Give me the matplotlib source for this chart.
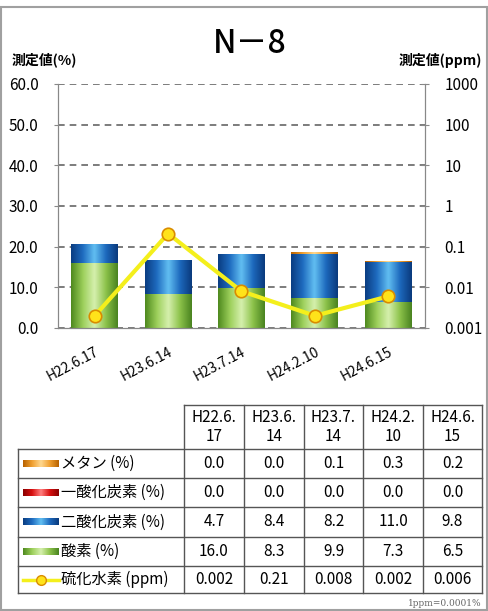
import numpy as np
import matplotlib
matplotlib.use('Agg')
import matplotlib.pyplot as plt
from matplotlib.colors import LinearSegmentedColormap
from matplotlib.patches import Rectangle

plt.rcParams['font.family'] = ['Noto Sans CJK JP', 'DejaVu Sans']

# data
dates = ['H22.6.17', 'H23.6.14', 'H23.7.14', 'H24.2.10', 'H24.6.15']
methane = [0.0, 0.0, 0.1, 0.3, 0.2]
co = [0.0, 0.0, 0.0, 0.0, 0.0]
co2 = [4.7, 8.4, 8.2, 11.0, 9.8]
o2 = [16.0, 8.3, 9.9, 7.3, 6.5]
h2s = [0.002, 0.21, 0.008, 0.002, 0.006]

left_ticks = [0, 10, 20, 30, 40, 50, 60]
right_ticks = [0.001, 0.01, 0.1, 1, 10, 100, 1000]
right_tick_labels = ['0.001', '0.01', '0.1', '1', '10', '100', '1000']

row_names = ['メタン (%)', '一酸化炭素 (%)', '二酸化炭素 (%)', '酸素 (%)', '硫化水素 (ppm)']

# gradient maps for the cylinder look
cm_green = LinearSegmentedColormap.from_list('g', ['#4f8a1f', '#9ccf5a', '#d6f0ae', '#8cc24a', '#4a8420'])
cm_blue = LinearSegmentedColormap.from_list('b', ['#0a3d82', '#1f6cc0', '#62bff2', '#1d69bd', '#0a3a7d'])
cm_orange = LinearSegmentedColormap.from_list('o', ['#b86200', '#f0a030', '#ffd890', '#f0a030', '#b86200'])
cm_red = LinearSegmentedColormap.from_list('r', ['#8a0000', '#d81010', '#ff8080', '#d81010', '#8a0000'])
grad = np.linspace(0, 1, 64).reshape(1, -1)


def grad_bars(ax, bars, cmap):
    for p in bars:
        h = p.get_height()
        if h <= 0:
            continue
        x0, y0, w = p.get_x(), p.get_y(), p.get_width()
        im = ax.imshow(grad, cmap=cmap, extent=[x0, x0 + w, y0, y0 + h],
                       aspect='auto', zorder=2, interpolation='bicubic')
        im.set_clip_path(p)
        p.set_facecolor('none')


fig = plt.figure(figsize=(4.89, 6.11), dpi=100)
ax = fig.add_axes([58 / 489, 1 - 328 / 611, 367 / 489, 244 / 611])

x = np.arange(len(dates))
bw = 0.64
b1 = ax.bar(x, o2, bw, zorder=2)
base = np.array(o2)
b2 = ax.bar(x, co2, bw, bottom=base, zorder=2)
base = base + np.array(co2)
b3 = ax.bar(x, co, bw, bottom=base, zorder=2)
base = base + np.array(co)
b4 = ax.bar(x, methane, bw, bottom=base, zorder=2)
grad_bars(ax, b1, cm_green)
grad_bars(ax, b2, cm_blue)
grad_bars(ax, b3, cm_red)
grad_bars(ax, b4, cm_orange)

ax.set_xlim(-0.5, len(dates) - 0.5)
ax.set_ylim(0, 60)
ax.set_yticks(left_ticks)
ax.set_yticklabels([f'{t:.1f}' for t in left_ticks], fontsize=11)
ax.yaxis.grid(True, linestyle=(0, (4, 3)), color='#666666', linewidth=1.2)
ax.set_axisbelow(True)
ax.set_xticks(x)
ax.set_xticklabels(dates, rotation=28, ha='right', rotation_mode='anchor', fontsize=10)
ax.tick_params(axis='x', length=0, pad=12)
ax.tick_params(axis='y', length=3, color='#888888', pad=11)
ax.spines['top'].set_visible(False)
for s in ['left', 'bottom', 'right']:
    ax.spines[s].set_color('#888888')

ax2 = ax.twinx()
ax2.set_yscale('log')
ax2.set_ylim(0.001, 1000)
ax2.plot(x, h2s, color='#f4ef1c', linewidth=3, marker='o', markersize=9,
         markerfacecolor='#ffe31a', markeredgecolor='#d98c00', markeredgewidth=1.2, zorder=5)
ax2.set_yticks(right_ticks)
ax2.set_yticklabels(right_tick_labels, fontsize=11)
ax2.minorticks_off()
ax2.tick_params(axis='y', direction='inout', length=6, color='#888888', pad=11)
ax2.spines['top'].set_visible(False)
for s in ['left', 'bottom', 'right']:
    ax2.spines[s].set_color('#888888')

# overlay in pixel coordinates for title, labels and table
ov = fig.add_axes([0, 0, 1, 1])
ov.set_xlim(0, 489)
ov.set_ylim(611, 0)
ov.axis('off')
ov.patch.set_alpha(0)

ov.add_patch(Rectangle((1, 7), 486, 603, fill=False, edgecolor='#a0a0a0', linewidth=1.5))
ov.text(250, 44, 'N－8', fontsize=23, ha='center', va='center', weight='medium')
ov.text(12, 60, '測定値(%)', fontsize=10, ha='left', va='center', weight='bold')
ov.text(482, 60, '測定値(ppm)', fontsize=10, ha='right', va='center', weight='bold')

col_edges = [184, 244, 304, 363, 423, 482]
row_edges = [449, 478, 507, 537, 566, 593]
head_top = 405
tab_left = 18
lc = '#555555'

# header cells
ov.plot([col_edges[0], col_edges[-1]], [head_top, head_top], color=lc, lw=1)
for cx in col_edges:
    ov.plot([cx, cx], [head_top, row_edges[-1]], color=lc, lw=1)
ov.plot([tab_left, tab_left], [row_edges[0], row_edges[-1]], color=lc, lw=1)
for ry in row_edges:
    ov.plot([tab_left, col_edges[-1]], [ry, ry], color=lc, lw=1)

for j, d in enumerate(dates):
    cx = (col_edges[j] + col_edges[j + 1]) / 2
    ov.text(cx, (head_top + row_edges[0]) / 2, d[:6] + '\n' + d[6:], fontsize=11,
            ha='center', va='center', linespacing=1.15)

series = [methane, co, co2, o2]
cmaps = [cm_orange, cm_red, cm_blue, cm_green]
for i, name in enumerate(row_names):
    cy = (row_edges[i] + row_edges[i + 1]) / 2
    if i < 4:
        ov.imshow(grad, cmap=cmaps[i], extent=[23, 59, cy + 3.5, cy - 3.5], aspect='auto')
        vals = [f'{v:.1f}' for v in series[i]]
    else:
        ov.plot([23, 59], [cy, cy], color='#f4ef1c', lw=2.5)
        ov.plot([41], [cy], marker='o', markersize=7, markerfacecolor='#ffe31a',
                markeredgecolor='#d98c00', markeredgewidth=1)
        vals = [f'{v:g}' for v in h2s]
    ov.text(61, cy, name, fontsize=11, ha='left', va='center')
    for j, v in enumerate(vals):
        cx = (col_edges[j] + col_edges[j + 1]) / 2
        ov.text(cx, cy, v, fontsize=11, ha='center', va='center')

ov.set_xlim(0, 489)
ov.set_ylim(611, 0)
ov.text(482, 604, '1ppm=0.0001%', fontsize=6.5, ha='right', va='center',
        family='DejaVu Serif', color='#666666')

fig.savefig('out.png', dpi=100)
